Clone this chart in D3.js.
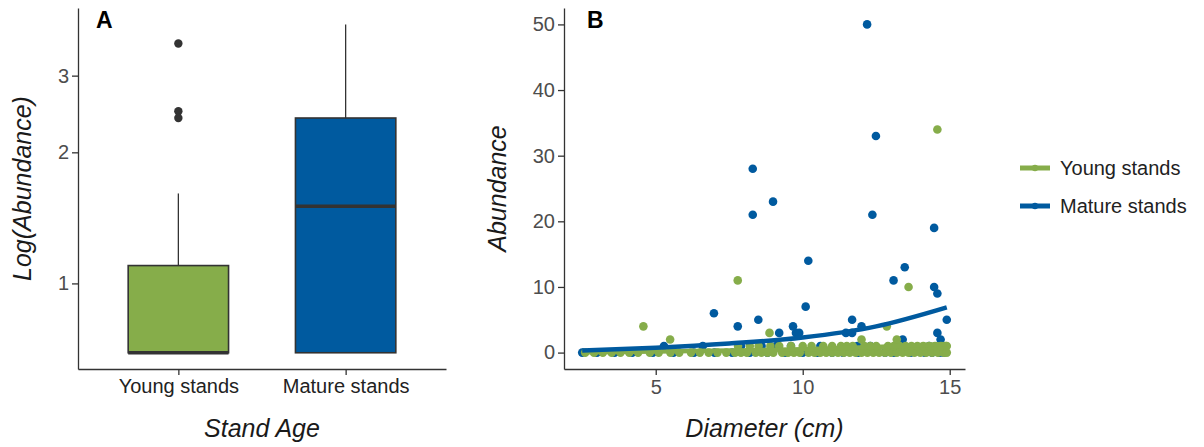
<!DOCTYPE html>
<html><head><meta charset="utf-8">
<script src="https://cdn.jsdelivr.net/npm/d3@7"></script>
<style>
html,body{margin:0;padding:0;background:#fff;}
text{font-family:"Liberation Sans",Arial,sans-serif;}
</style></head>
<body><svg id="c" width="1204" height="447"></svg>
<script>
// ---------- Panel A data (box statistics, Log(Abundance)) ----------
const boxCategories = ["Young stands", "Mature stands"];
const boxLower  = [0.693, 0.693];
const boxQ1     = [0.693, 0.693];
const boxMedian = [0.693, 1.504];
const boxQ3     = [1.099, 2.398];
const boxUpper  = [1.609, 3.932];
const boxOutliers = [[3.555, 2.485, 2.398], []];
const boxColors = ["#86ad4a", "#005a9f"];
const logTicks = [1, 2, 3];

// ---------- Panel B data (Diameter cm, Abundance) ----------
const youngPoints = [
  [2.6,0],[2.9,0],[3.2,0],[3.5,0],[3.8,0],[4.1,0],[4.4,0],[4.8,0],[5.1,0],[5.5,0],[5.8,0],[6.2,0],[6.5,0],[6.8,0],
  [7.1,0],[7.4,0],[7.7,0],[7.9,0],[8.1,0],[8.4,0],[8.6,0],[8.8,0],[9.0,0],[9.3,0],[9.5,0],[9.7,0],[9.9,0],[10.2,0],
  [10.4,0],[10.6,0],[10.8,0],[11.0,0],[11.2,0],[11.4,0],[11.6,0],[11.8,0],[12.0,0],[12.2,0],[12.4,0],[12.6,0],[12.8,0],
  [13.0,0],[13.2,0],[13.4,0],[13.6,0],[13.8,0],[14.0,0],[14.2,0],[14.4,0],[14.6,0],[14.8,0],[14.9,0],
  [7.8,1],[8.2,1],[8.5,1],[8.9,1],[9.2,1],[9.6,1],[10.0,1],[10.3,1],[10.7,1],[11.0,1],[11.3,1],[11.5,1],[11.7,1],
  [12.1,1],[12.3,1],[12.5,1],[12.9,1],[13.1,1],[13.3,1],[13.5,1],[13.7,1],[13.9,1],[14.1,1],[14.3,1],[14.5,1],[14.7,1],[14.9,1],
  [5.49,2],[12.0,2],[13.2,2],[8.87,3],[4.58,4],[12.86,4],[13.6,10],[7.79,11],[14.58,34]
];
const maturePoints = [
  [2.5,0],[3.0,0],[3.6,0],[4.2,0],[4.9,0],[5.6,0],[6.3,0],[7.0,0],[7.6,0],[8.2,0],[8.8,0],[9.4,0],[10.0,0],[10.5,0],
  [11.0,0],[11.37,0],[11.88,0],[12.8,0],[13.1,0],[13.67,0],[14.15,0],[14.4,0],[14.66,0],[14.8,0],
  [5.28,1],[6.6,1],[7.9,1],[8.6,1],[9.1,1],[9.6,1],[10.6,1],[11.86,1],[12.3,1],[14.3,1],
  [13.4,2],[14.69,2],[9.2,3],[9.77,3],[9.88,3],[11.47,3],[11.68,3],[14.58,3],
  [7.79,4],[9.67,4],[12.0,4],[8.49,5],[11.68,5],[14.9,5],[6.98,6],[10.1,7],[14.58,9],[14.47,10],
  [13.09,11],[13.47,13],[10.19,14],[14.47,19],[8.3,21],[12.37,21],[8.99,23],[8.3,28],[12.49,33],[12.19,50]
];
const youngFit  = [[2.5,0.05],[5,0.15],[7.5,0.3],[10,0.5],[12.5,0.85],[14.9,1.3]];
const matureFit = [[2.5,0.3],[5,0.75],[7.5,1.4],[10,2.3],[12.5,4.0],[14.9,6.9]];
const xTicksB = [5, 10, 15];
const yTicksB = [0, 10, 20, 30, 40, 50];
const legendLabels = ["Young stands", "Mature stands"];
const seriesColors = ["#86ad4a", "#005a9f"];

const svg = d3.select("#c");
const axisCol = "#333";
const tickTextCol = "#4d4d4d";
const FONT = "Liberation Sans, Arial, sans-serif";

// ================= Panel A =================
const A = {l:78, r:446, t:8, b:369};
const xA = d3.scaleLinear().domain([0.4, 2.6]).range([A.l, A.r]);
const yA = d3.scaleLog().domain([0.636, 4.29]).range([A.b, A.t]);
const gA = svg.append("g");

boxCategories.forEach((c,i)=>{
  const cx = xA(i+1);
  gA.append("line").attr("x1",cx).attr("x2",cx).attr("y1",yA(boxQ3[i])).attr("y2",yA(boxUpper[i]))
    .attr("stroke","#333").attr("stroke-width",1.3);
  gA.append("line").attr("x1",cx).attr("x2",cx).attr("y1",yA(boxQ1[i])).attr("y2",yA(boxLower[i]))
    .attr("stroke","#333").attr("stroke-width",1.3);
  const w = xA(1.3)-xA(0.7);
  gA.append("rect").attr("x",cx-w/2).attr("width",w)
    .attr("y",yA(boxQ3[i])).attr("height",yA(boxQ1[i])-yA(boxQ3[i]))
    .attr("fill",boxColors[i]).attr("stroke","#333").attr("stroke-width",1.6);
  gA.append("line").attr("x1",cx-w/2).attr("x2",cx+w/2).attr("y1",yA(boxMedian[i])).attr("y2",yA(boxMedian[i]))
    .attr("stroke","#333").attr("stroke-width",3.4);
  boxOutliers[i].forEach(o=>{
    gA.append("circle").attr("cx",cx).attr("cy",yA(o)).attr("r",4.2).attr("fill","#333");
  });
});

const axA_y = gA.append("g").attr("transform",`translate(${A.l},0)`)
  .call(d3.axisLeft(yA).tickValues(logTicks).tickFormat(d3.format("d")).tickSize(6).tickSizeOuter(0));
const axA_x = gA.append("g").attr("transform",`translate(0,${A.b})`)
  .call(d3.axisBottom(xA).tickValues([1,2]).tickFormat((d)=>boxCategories[d-1]).tickSize(6).tickSizeOuter(0));
[axA_y, axA_x].forEach(a=>{
  a.select(".domain").attr("stroke",axisCol).attr("stroke-width",1.3);
  a.selectAll(".tick line").attr("stroke",axisCol).attr("stroke-width",1.3);
});
axA_y.selectAll(".tick text").attr("font-size",20).attr("fill",tickTextCol).attr("x",-9).attr("font-family",FONT);
axA_x.selectAll(".tick text").attr("font-size",20).attr("fill","#222").attr("dy","0.71em").attr("y",10).attr("font-family",FONT);

gA.append("text").attr("x",(A.l+A.r)/2).attr("y",437).attr("text-anchor","middle")
  .attr("font-size",25).attr("font-style","italic").attr("fill","#1a1a1a").text("Stand Age");
gA.append("text").attr("transform",`translate(31,${(A.t+A.b)/2}) rotate(-90)`).attr("text-anchor","middle")
  .attr("font-size",25).attr("font-style","italic").attr("fill","#1a1a1a").text("Log(Abundance)");
gA.append("text").attr("x",96).attr("y",28).attr("font-size",23).attr("font-weight","bold")
  .attr("fill","#000").text("A");

// ================= Panel B =================
const B = {l:564, r:965, t:8, b:369};
const xB = d3.scaleLinear().domain([1.88, 15.52]).range([B.l, B.r]);
const yB = d3.scaleLinear().domain([-2.5, 52.5]).range([B.b, B.t]);
const gB = svg.append("g");

gB.append("g").selectAll("circle").data(maturePoints).join("circle")
  .attr("cx",d=>xB(d[0])).attr("cy",d=>yB(d[1])).attr("r",4.3).attr("fill",seriesColors[1]);
gB.append("g").selectAll("circle").data(youngPoints).join("circle")
  .attr("cx",d=>xB(d[0])).attr("cy",d=>yB(d[1])).attr("r",4.3).attr("fill",seriesColors[0]);

const line = d3.line().x(d=>xB(d[0])).y(d=>yB(d[1])).curve(d3.curveMonotoneX);
gB.append("path").attr("d",line(youngFit)).attr("fill","none").attr("stroke",seriesColors[0]).attr("stroke-width",4.5);
gB.append("path").attr("d",line(matureFit)).attr("fill","none").attr("stroke",seriesColors[1]).attr("stroke-width",4.5);

const axB_y = gB.append("g").attr("transform",`translate(${B.l},0)`)
  .call(d3.axisLeft(yB).tickValues(yTicksB).tickSize(6).tickSizeOuter(0));
const axB_x = gB.append("g").attr("transform",`translate(0,${B.b})`)
  .call(d3.axisBottom(xB).tickValues(xTicksB).tickSize(6).tickSizeOuter(0));
[axB_y, axB_x].forEach(a=>{
  a.select(".domain").attr("stroke",axisCol).attr("stroke-width",1.3);
  a.selectAll(".tick line").attr("stroke",axisCol).attr("stroke-width",1.3);
  a.selectAll(".tick text").attr("font-size",20).attr("fill",tickTextCol).attr("font-family",FONT);
});
axB_y.selectAll(".tick text").attr("x",-9);
axB_x.selectAll(".tick text").attr("y",11);

gB.append("text").attr("x",(B.l+B.r)/2).attr("y",437).attr("text-anchor","middle")
  .attr("font-size",25).attr("font-style","italic").attr("fill","#1a1a1a").text("Diameter (cm)");
gB.append("text").attr("transform",`translate(506,${(B.t+B.b)/2}) rotate(-90)`).attr("text-anchor","middle")
  .attr("font-size",25).attr("font-style","italic").attr("fill","#1a1a1a").text("Abundance");
gB.append("text").attr("x",587).attr("y",28).attr("font-size",23).attr("font-weight","bold")
  .attr("fill","#000").text("B");

// legend
const lg = svg.append("g");
legendLabels.forEach((lab,i)=>{
  const y = 168 + i*38;
  lg.append("line").attr("x1",1020).attr("x2",1050).attr("y1",y).attr("y2",y)
    .attr("stroke",seriesColors[i]).attr("stroke-width",5);
  lg.append("circle").attr("cx",1035).attr("cy",y).attr("r",3.2).attr("fill",seriesColors[i]);
  lg.append("text").attr("x",1060).attr("y",y).attr("dy","0.35em").attr("font-size",20)
    .attr("fill","#222").text(lab);
});
</script></body></html>
